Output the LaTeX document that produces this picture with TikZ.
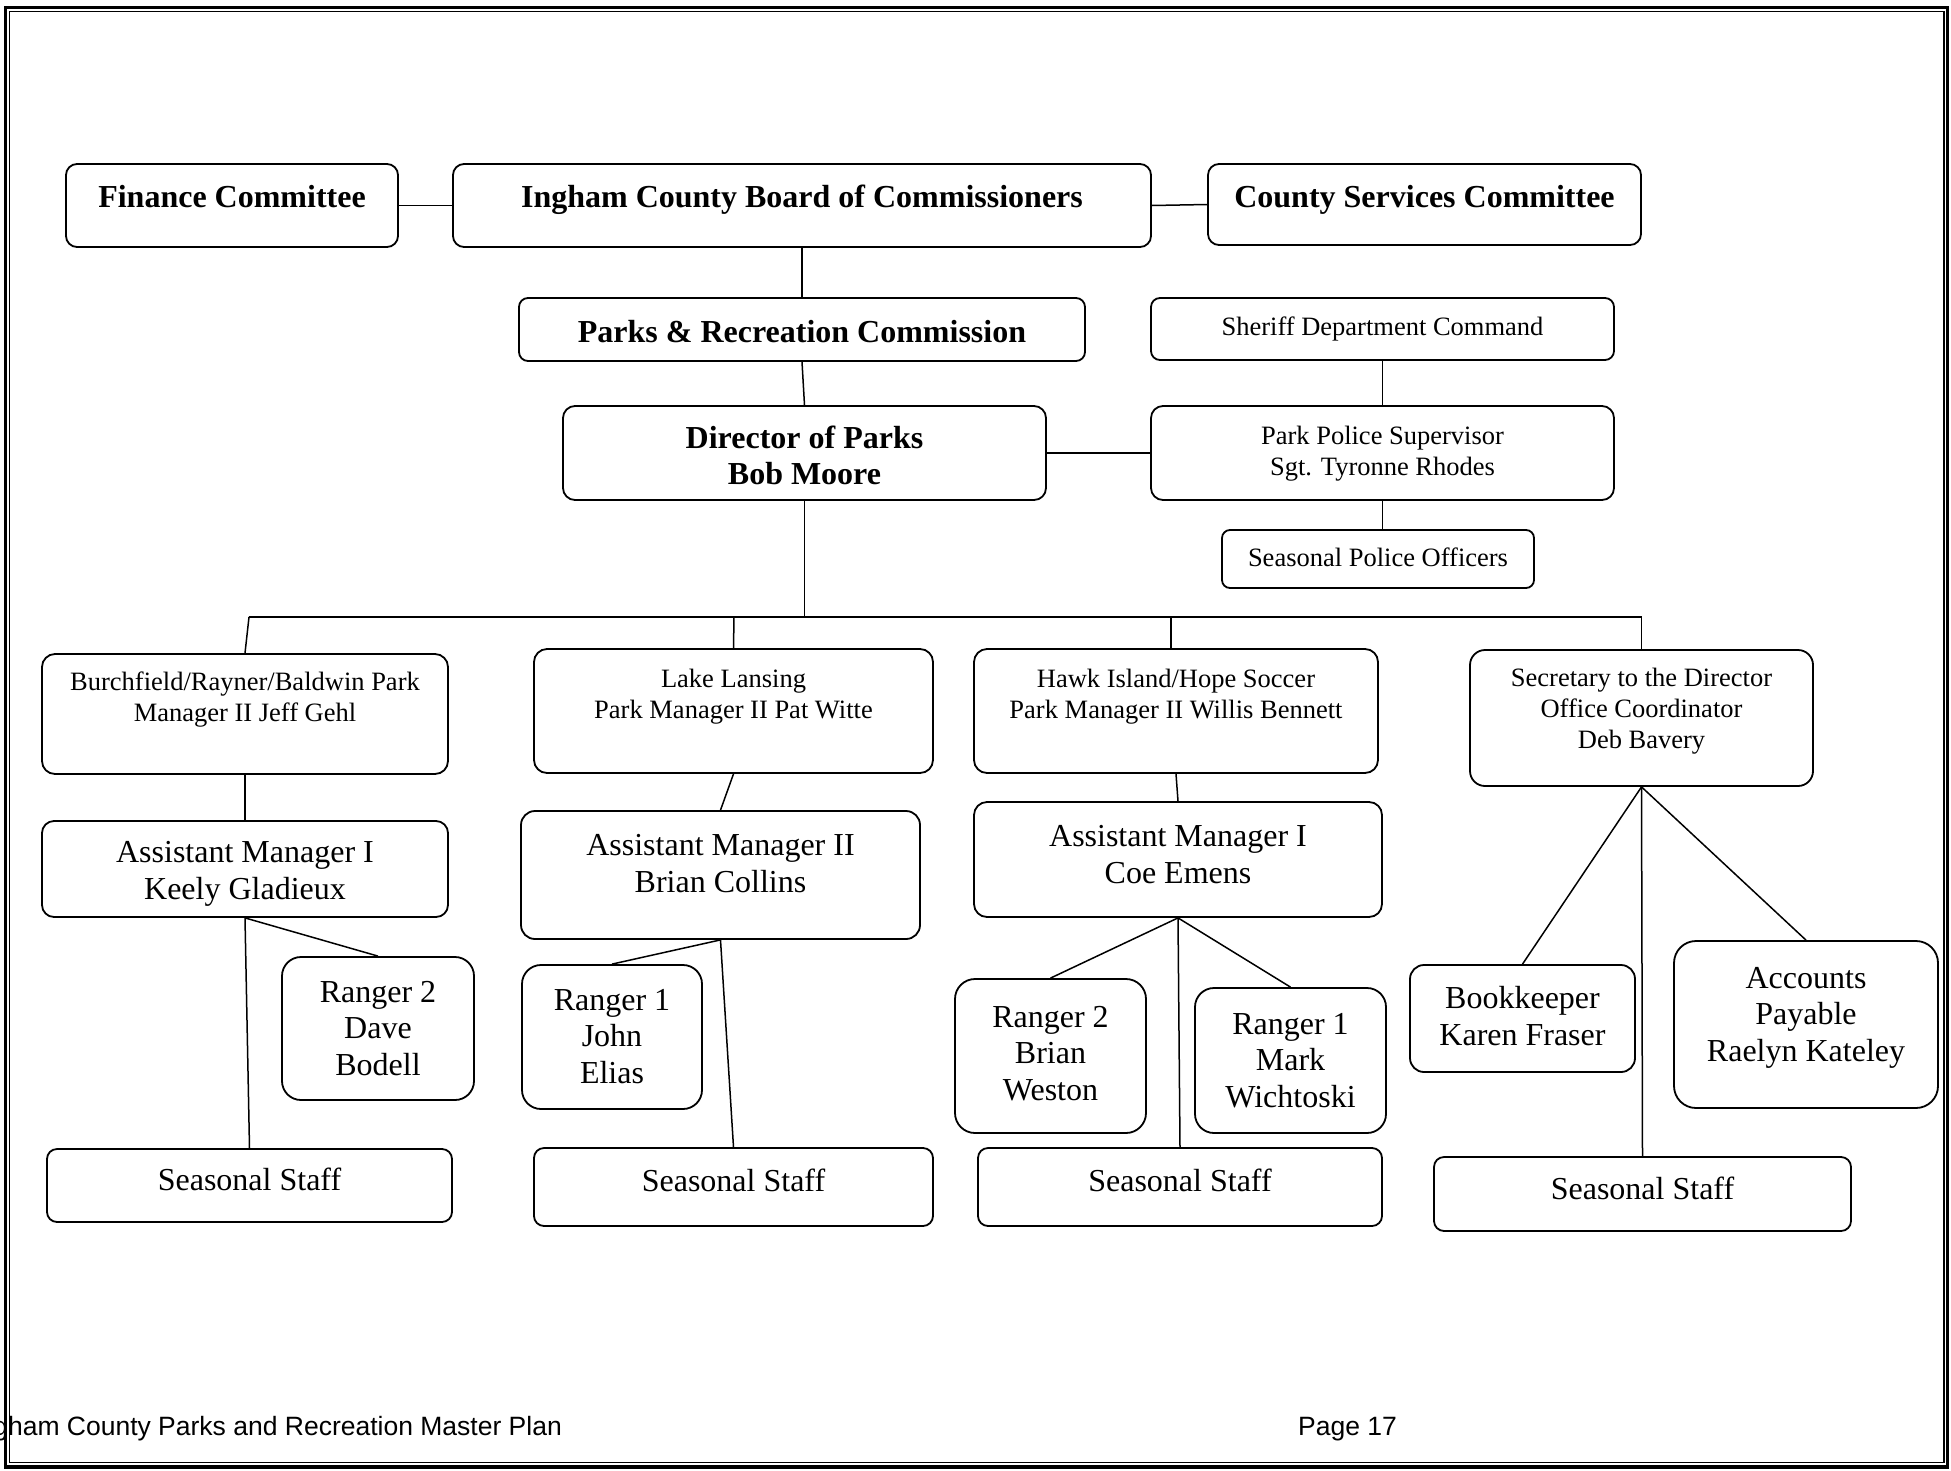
\documentclass[tikz,border=0pt]{standalone}
\usepackage{fontspec}
\setmainfont{Liberation Serif}
\newfontfamily\footfont{Liberation Sans}
\usetikzlibrary{fit}
\newcommand\obox[6]{\node[box, rounded corners=#6pt, fit={(#2,#3) (#4,#5)}] (#1) {};}
\begin{document}
\begin{tikzpicture}[x=1pt,y=-1pt,
  box/.style={draw, line width=1.8pt, inner sep=0pt},
  conn/.style={line width=1.5pt},
  bt/.style={font=\fontsize{32}{36}\selectfont\bfseries, align=center, anchor=base, inner sep=0pt},
  st/.style={font=\fontsize{26.5}{30.8}\selectfont, align=center, anchor=base, inner sep=0pt},
  lt/.style={font=\fontsize{32}{36.5}\selectfont, align=center, anchor=base, inner sep=0pt},
  ft/.style={font=\footfont\fontsize{26.5}{30}\selectfont, anchor=base west, inner sep=0pt},
]
\useasboundingbox (0,0) rectangle (1951,1470);
% page frame
\draw[line width=3.3pt] (5.7,7.7) rectangle (1947.5,1467);
\draw[line width=1.5pt] (9.7,11.5) rectangle (1944,1462.5);

% boxes
\obox{fin}{66}{164}{398}{247}{11}
\obox{board}{453}{164}{1151}{247}{11}
\obox{csc}{1208}{164}{1641}{245}{11}
\obox{prc}{519}{298}{1085}{361}{9}
\obox{sheriff}{1151}{298}{1614}{360}{9}
\obox{dir}{563}{406}{1046}{500}{12}
\obox{ppsup}{1151}{406}{1614}{500}{12}
\obox{spo}{1222}{530}{1534}{588}{8}
\obox{burch}{42}{654}{448}{774}{13}
\obox{lake}{534}{649}{933}{773}{13}
\obox{hawk}{974}{649}{1378}{773}{13}
\obox{sec}{1470}{650}{1813}{786}{15}
\obox{amone}{42}{821}{448}{917}{12}
\obox{amtwo}{521}{811}{920}{939}{14}
\obox{coe}{974}{802}{1382}{917}{13}
\obox{rdave}{282}{957}{474}{1100}{19}
\obox{rjohn}{522}{965}{702}{1109}{19}
\obox{rbrian}{955}{979}{1146}{1133}{20}
\obox{rmark}{1195}{988}{1386}{1133}{19}
\obox{book}{1410}{965}{1635}{1072}{14}
\obox{ap}{1674}{941}{1938}{1108}{22}
\obox{ssa}{47}{1149}{452}{1222}{10}
\obox{ssb}{534}{1148}{933}{1226}{10}
\obox{ssc}{978}{1148}{1382}{1226}{10}
\obox{ssd}{1434}{1157}{1851}{1231}{10}

% texts (anchor base = baseline of the last line)
\node[bt] (fint) at (232,207) {Finance Committee};
\node[bt] (boardt) at (802,207) {Ingham County Board of Commissioners};
\node[bt] (csct) at (1424.5,207) {County Services Committee};
\node[bt] (prct) at (802,342) {Parks \& Recreation Commission};
\node[bt] (dirt) at (804.5,484) {Director of Parks\\Bob Moore};
\node[st] (sherifft) at (1382.5,335) {Sheriff Department Command};
\node[st] (ppsupt) at (1382.5,475) {Park Police Supervisor\\Sgt. Tyronne Rhodes};
\node[st] (spot) at (1378,566) {Seasonal Police Officers};
\node[st] (burcht) at (245,721) {Burchfield/Rayner/Baldwin Park\\Manager II Jeff Gehl};
\node[st] (laket) at (733.5,718) {Lake Lansing\\Park Manager II Pat Witte};
\node[st] (hawkt) at (1176,718) {Hawk Island/Hope Soccer\\Park Manager II Willis Bennett};
\node[st] (sect) at (1641.5,748.5) {Secretary to the Director\\Office Coordinator\\Deb Bavery};
\node[lt] (amonet) at (245,899) {Assistant Manager I\\Keely Gladieux};
\node[lt] (amtwot) at (720.5,892) {Assistant Manager II\\Brian Collins};
\node[lt] (coet) at (1178,883) {Assistant Manager I\\Coe Emens};
\node[lt] (rdavet) at (378,1075) {Ranger 2\\Dave\\Bodell};
\node[lt] (rjohnt) at (612,1083) {Ranger 1\\John\\Elias};
\node[lt] (rbriant) at (1050.5,1100) {Ranger 2\\Brian\\Weston};
\node[lt] (rmarkt) at (1290.5,1107) {Ranger 1\\Mark\\Wichtoski};
\node[lt] (bookt) at (1522.5,1045) {Bookkeeper\\Karen Fraser};
\node[lt] (apt) at (1806,1061) {Accounts\\Payable\\Raelyn Kateley};
\node[lt] (ssat) at (249.5,1190) {Seasonal Staff};
\node[lt] (ssbt) at (733.5,1191) {Seasonal Staff};
\node[lt] (ssct) at (1180,1191) {Seasonal Staff};
\node[lt] (ssdt) at (1642.5,1199) {Seasonal Staff};

% footer
\node[ft] (footl) at (-29,1435) {Ingham County Parks and Recreation Master Plan};
\node[ft] (footr) at (1298,1435) {Page 17};

% connectors
\draw[conn] (fin.east) -- (board.west);
\draw[conn] (board.east) -- (csc.west);
\draw[conn] (board.south) -- (prc.north);
\draw[conn] (prc.south) -- (dir.north);
\draw[conn] (dir.east) -- (ppsup.west);
\draw[conn] (sheriff.south) -- (ppsup.north);
\draw[conn] (ppsup.south) -- (ppsup.south |- spo.north);

\coordinate (busL) at (249,617);
\coordinate (busA) at (734,617);
\coordinate (busH) at (1171,617);
\coordinate (busR) at (1641.5,617);
\draw[conn] (busL) -- (busR);
\draw[conn] (dir.south) -- (dir.south |- busL);
\draw[conn] (busL) -- (burch.north);
\draw[conn] (busA) -- (lake.north);
\draw[conn] (busH) -- (busH |- hawk.north);
\draw[conn] (busR) -- (sec.north);

\draw[conn] (burch.south) -- (amone.north);
\draw[conn] (amone.south) -- (rdave.north);
\draw[conn] (amone.south) -- (ssa.north);
\draw[conn] (lake.south) -- (amtwo.north);
\draw[conn] (amtwo.south) -- (rjohn.north);
\draw[conn] (amtwo.south) -- (ssb.north);
\draw[conn] (hawk.south) -- (coe.north);
\draw[conn] (coe.south) -- (rbrian.north);
\draw[conn] (coe.south) -- (rmark.north);
\draw[conn] (coe.south) -- (ssc.north);
\draw[conn] (sec.south) -- (book.north);
\draw[conn] (sec.south) -- (ap.north);
\draw[conn] (sec.south) -- (ssd.north);
\end{tikzpicture}
\end{document}
